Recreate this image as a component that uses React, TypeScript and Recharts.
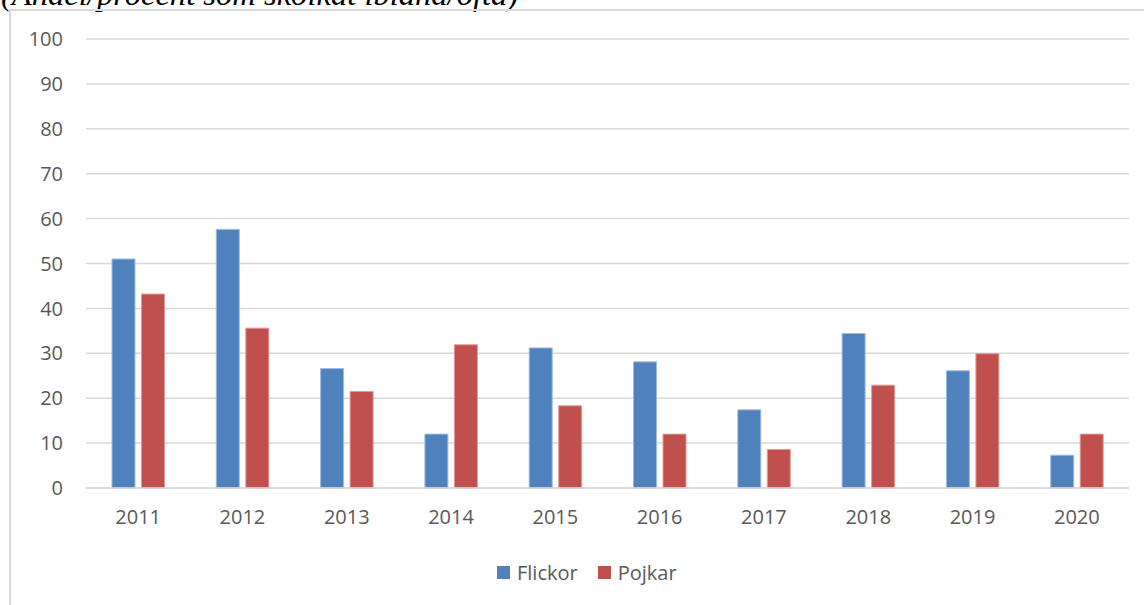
import React from 'react';
import { BarChart, Bar, XAxis, YAxis, CartesianGrid, Legend } from 'recharts';

const years = ['2011', '2012', '2013', '2014', '2015', '2016', '2017', '2018', '2019', '2020'];
const flickor = [51.0, 57.6, 26.6, 12.0, 31.2, 28.1, 17.4, 34.4, 26.1, 7.3];
const pojkar = [43.2, 35.6, 21.5, 31.9, 18.3, 12.0, 8.6, 22.9, 29.9, 12.0];
const yTicks = [0, 10, 20, 30, 40, 50, 60, 70, 80, 90, 100];
const titleText = '(Andel/procent som skolkat ibland/ofta)';

const data = years.map((y, i) => ({ year: y, Flickor: flickor[i], Pojkar: pojkar[i] }));

const BLUE = '#4f81bd';
const RED = '#c0504d';
const TEXT = '#595959';
const FONT = '"Open Sans", sans-serif';

const LegendContent = () => (
  <div style={{ display: 'flex', alignItems: 'center', fontFamily: FONT, fontSize: 20, color: TEXT, height: 20 }}>
    <span style={{ display: 'inline-block', width: 13, height: 13, background: BLUE, marginRight: 7 }} />
    <span style={{ marginRight: 20 }}>Flickor</span>
    <span style={{ display: 'inline-block', width: 13, height: 13, background: RED, marginRight: 7 }} />
    <span>Pojkar</span>
  </div>
);

export default function App() {
  return (
    <div style={{ position: 'absolute', left: 0, top: 0, width: 1144, height: 605, overflow: 'hidden', background: '#fff' }}>
      <div
        style={{
          position: 'absolute',
          left: 1,
          top: -22,
          fontFamily: '"Liberation Serif", "Times New Roman", serif',
          fontStyle: 'italic',
          fontSize: 32.6,
          lineHeight: '32px',
          color: '#000',
          whiteSpace: 'nowrap',
        }}
      >
        {titleText}
      </div>
      <div
        style={{
          position: 'absolute',
          left: 9,
          top: 9,
          width: 1160,
          height: 640,
          border: '2px solid #d9d9d9',
          boxSizing: 'border-box',
        }}
      />
      <div style={{ position: 'absolute', left: 0, top: 0 }}>
        <BarChart
          width={1144}
          height={605}
          data={data}
          margin={{ top: 39, right: 15, left: 0, bottom: 67 }}
          barSize={23}
          barGap={6.5}
        >
          <CartesianGrid vertical={false} stroke="#d9d9d9" strokeWidth={1.5} />
          <XAxis
            dataKey="year"
            height={30}
            axisLine={{ stroke: '#d9d9d9', strokeWidth: 1.5 }}
            tickLine={false}
            tickSize={0}
            tickMargin={22}
            tick={{ fill: TEXT, fontSize: 20, fontFamily: FONT }}
            interval={0}
          />
          <YAxis
            width={86}
            domain={[0, 100]}
            ticks={yTicks}
            axisLine={false}
            tickLine={false}
            tickSize={0}
            tickMargin={23}
            tick={{ fill: TEXT, fontSize: 20, fontFamily: FONT }}
            interval={0}
          />
          <Legend
            verticalAlign="bottom"
            content={<LegendContent />}
            wrapperStyle={{ position: 'absolute', left: 497, top: 562, width: 200, height: 20 }}
          />
          <Bar dataKey="Flickor" fill={BLUE} stroke="#9fbbe0" strokeWidth={1} isAnimationActive={false} />
          <Bar dataKey="Pojkar" fill={RED} stroke="#e09a98" strokeWidth={1} isAnimationActive={false} />
        </BarChart>
      </div>
    </div>
  );
}
